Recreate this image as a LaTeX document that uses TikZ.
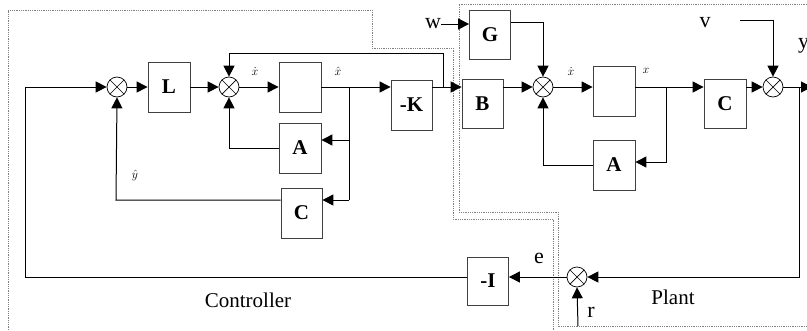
\documentclass[tikz,border=0pt]{standalone}
\usepackage{fontspec}
\setmainfont{Liberation Serif}
\usetikzlibrary{arrows.meta}
\begin{document}
\begin{tikzpicture}[x=1pt,y=-1pt,
  blk/.style={draw=black!75, line width=0.8pt, minimum width=42pt, minimum height=50pt, inner sep=0pt, font=\fontsize{21}{22}\selectfont\bfseries},
  sumj/.style={draw, circle, minimum size=20pt, inner sep=0pt, line width=0.7pt,
    path picture={\draw[line width=0.7pt] (path picture bounding box.north west) -- (path picture bounding box.south east)
      (path picture bounding box.north east) -- (path picture bounding box.south west);}},
  arr/.style={line width=1pt, -{Triangle[length=11pt,width=11pt]}},
  ln/.style={line width=1pt},
  bnd/.style={draw=black!50, line width=0.9pt, dash pattern=on 0.9pt off 0.9pt},
  sig/.style={font=\fontsize{13}{13}\selectfont, inner sep=0pt},
  big/.style={font=\fontsize{22}{22}\selectfont, inner sep=0pt},
  lbl/.style={font=\fontsize{21}{21}\selectfont, inner sep=0pt},
]
\useasboundingbox (0,0) rectangle (807,330);

% region boundaries
\draw[bnd] (8,330) -- (8,10) -- (372,10) -- (372,48) -- (453,48) -- (453,219) -- (553,219) -- (553,330);
\draw[bnd] (807,4) -- (459,4) -- (459,212) -- (558,212) -- (558,326) -- (807,326);

% summing junctions
\node[sumj] (S1) at (117,87) {};
\node[sumj] (S2) at (229,87) {};
\node[sumj] (S3) at (543,87) {};
\node[sumj] (S4) at (773,87) {};
\node[sumj] (S5) at (577,277) {};

% blocks
\node[blk] (L) at (169,87) {L};
\node[blk] (I1) at (300,87) {};
\node[blk] (Ac) at (300,148) {A};
\node[blk, minimum width=41pt] (Cc) at (301.5,213) {C};
\node[blk, minimum width=41pt] (K) at (411.5,105) {-K};
\node[blk, minimum width=41pt, minimum height=49pt] (B) at (482.5,103.5) {B};
\node[blk, minimum width=41pt, minimum height=49pt] (G) at (490,34.5) {G};
\node[blk] (I2) at (614,91) {};
\node[blk] (Ap) at (614,165) {A};
\node[blk, minimum height=49pt] (Cp) at (725,103.5) {C};
\node[blk, minimum width=41pt, minimum height=48pt] (I) at (488,281) {-I};

% coordinates
\coordinate (bl) at (25,277);
\coordinate (br1) at (349,87);
\coordinate (br1a) at (349,140);
\coordinate (br1b) at (349,200);
\coordinate (yh) at (116,200);
\coordinate (ac) at (229,148);
\coordinate (br2) at (443,87);
\coordinate (top2) at (443,53);
\coordinate (top2l) at (229,53);
\coordinate (win) at (441,24);
\coordinate (gk) at (543,22);
\coordinate (br3) at (666,87);
\coordinate (br3a) at (666,162);
\coordinate (ap) at (543,165);
\coordinate (vin) at (740,20);
\coordinate (out) at (812,87);
\coordinate (br4) at (799,87);
\coordinate (br4b) at (799,277);
\coordinate (rin) at (578,326);

% controller connections
\draw[arr] (S5.west) -- (S5 -| I.east);
\draw[ln] (S5 -| I.west) -- (bl);
\draw[arr] (bl) |- (S1.west);
\draw[arr] (S1) -- (L);
\draw[arr] (L) -- (S2);
\draw[arr] (S2) -- (I1);
\draw[ln] (I1.east |- br1) -- (br1);
\draw[arr] (br1) -- (br1 -| K.west);
\draw[ln] (br1) -- (br1b);
\draw[arr] (br1a) -- (br1a -| Ac.east);
\draw[arr] (br1b) -- (br1b -| Cc.east);
\draw[arr] (Ac.west |- ac) -- (ac) -- (S2.south);
\draw[arr] (Cc.west |- yh) -- (yh) -- (S1.south);
\draw[ln] (K.east |- br2) -- (br2);
\draw[arr] (br2) -- (br2 -| B.west);
\draw[arr] (br2) -- (top2) -- (top2l) -- (S2.north);

% plant connections
\draw[arr] (B.east |- S3) -- (S3.west);
\draw[arr] (win) -- (win -| G.west);
\draw[arr] (G.east |- gk) -- (gk) -- (S3.north);
\draw[arr] (S3.east) -- (S3 -| I2.west);
\draw[ln] (I2.east |- br3) -- (br3);
\draw[arr] (br3) -- (br3 -| Cp.west);
\draw[arr] (br3) -- (br3a) -- (br3a -| Ap.east);
\draw[arr] (Ap.west |- ap) -- (ap) -- (S3.south);
\draw[arr] (Cp.east |- S4) -- (S4.west);
\draw[arr] (vin) -| (S4.north);
\draw[arr] (S4.east) -- (out);
\draw[arr] (br4) -- (br4b) -- (S5.east);
\draw[arr] (rin) -- (S5.south);

% labels
\node[sig] (xd1) at (255,72) {$\dot{x}$};
\node[sig] (xh1) at (338,71) {$\hat{x}$};
\node[sig] (yhat) at (135,175) {$\hat{y}$};
\node[sig] (xd2) at (571,72) {$\dot{x}$};
\node[sig] (x2) at (646,71) {$x$};
\node[big] (wl) at (433,24) {w};
\node[big] (vl) at (705,23) {v};
\node[big, anchor=west] (yl) at (798,46) {y};
\node[big] (el) at (539,258) {e};
\node[big] (rl) at (591,312) {r};
\node[lbl] (ctl) at (248,300) {Controller};
\node[lbl] (plt) at (673,297) {Plant};
\end{tikzpicture}
\end{document}
